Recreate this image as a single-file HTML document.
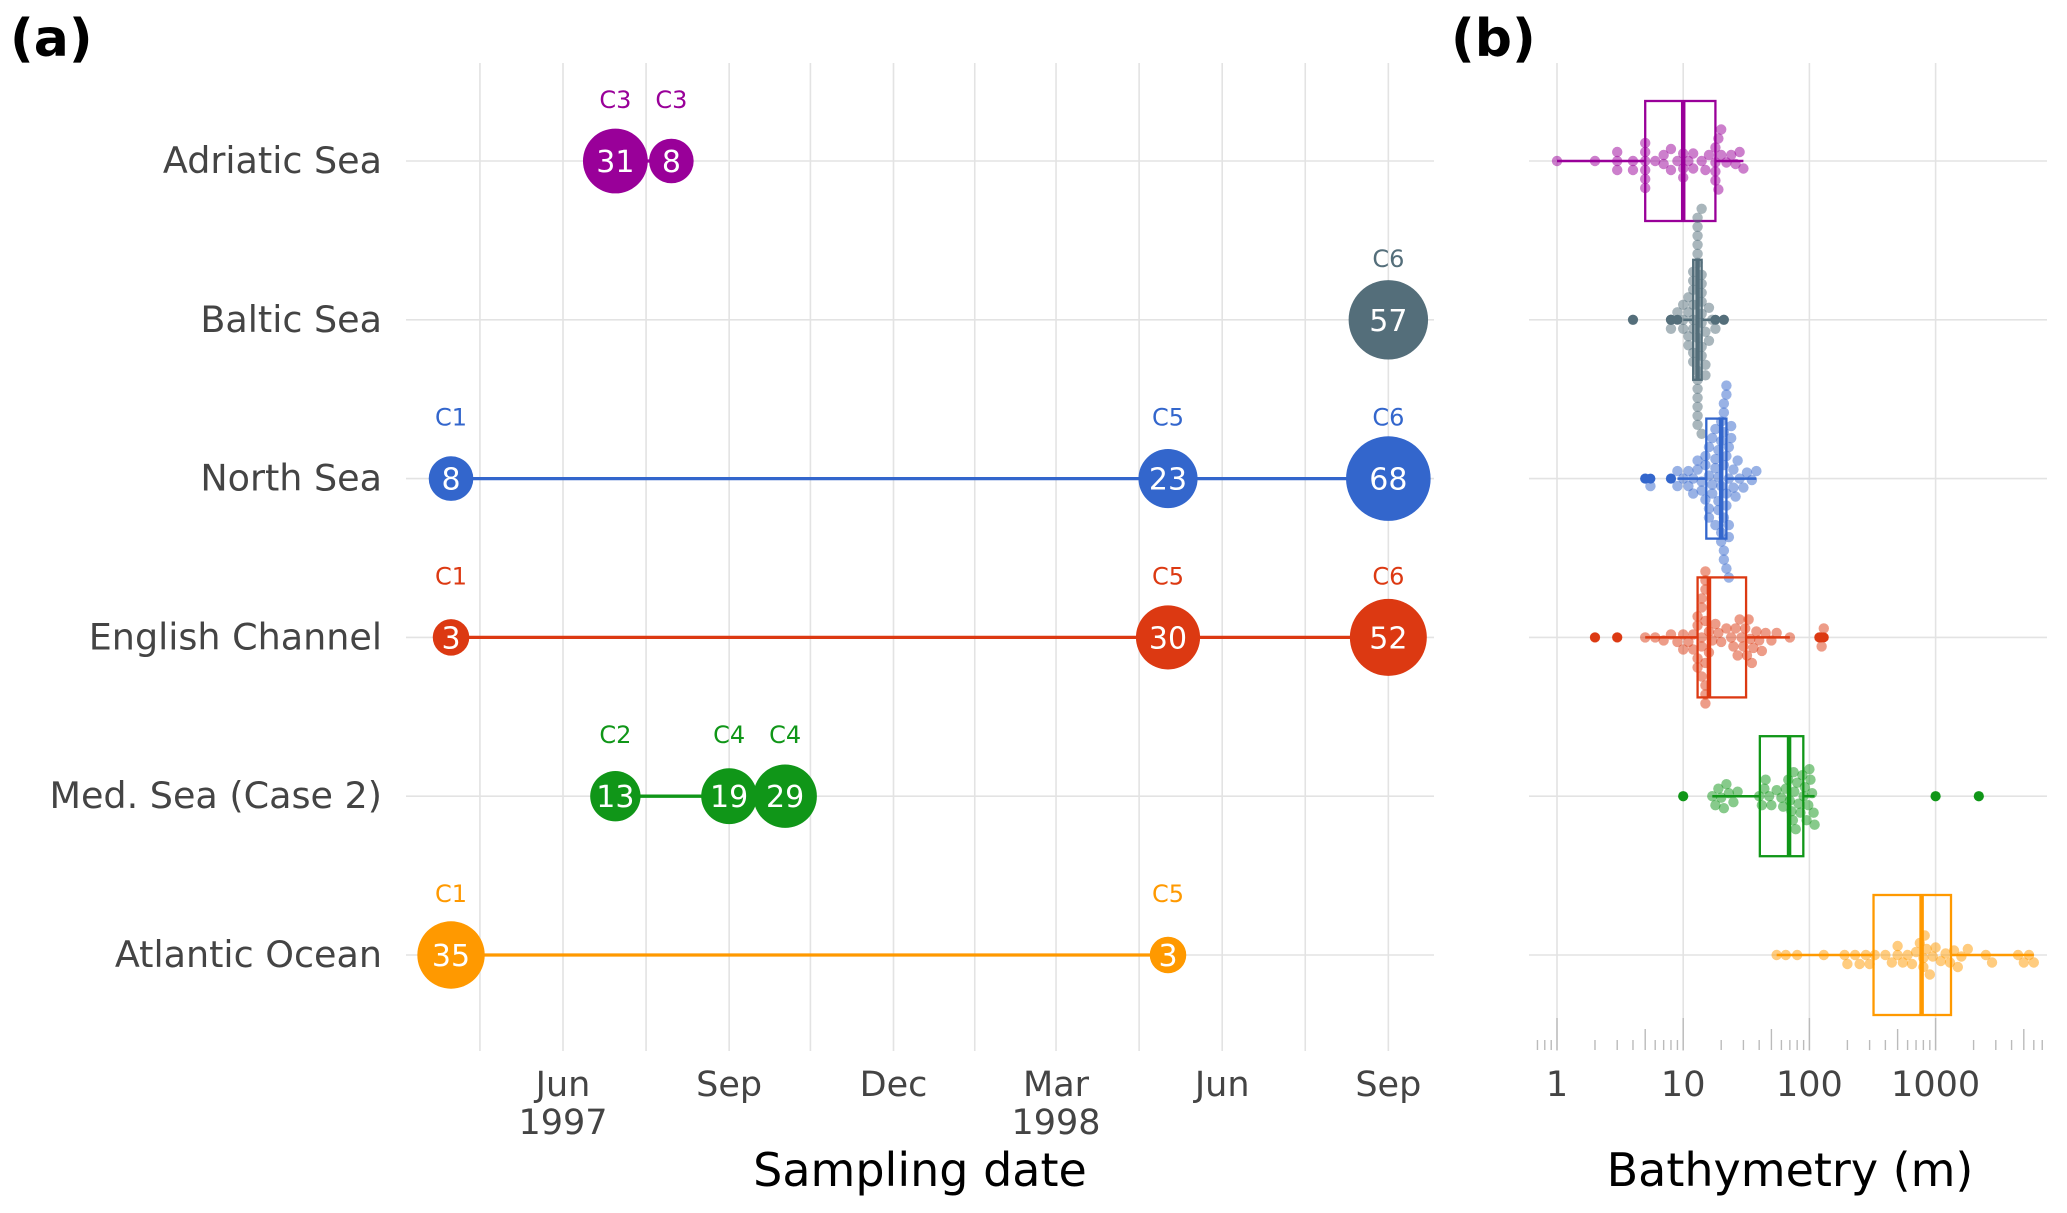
<!DOCTYPE html>
<html><head><meta charset="utf-8"><style>
html,body{margin:0;padding:0;background:#fff;}
svg{display:block;font-family:"DejaVu Sans","Liberation Sans",sans-serif;}
</style></head><body>
<svg id="chart" width="2067" height="1213" viewBox="0 0 2067 1213" xmlns="http://www.w3.org/2000/svg">
<text x="10" y="56" font-size="52" font-weight="bold" fill="#000">(a)</text>
<text x="1451" y="56" font-size="52" font-weight="bold" fill="#000">(b)</text>
<g id="pa"></g>
<g id="pb"></g>
<text x="920" y="1186" font-size="46" text-anchor="middle" fill="#000">Sampling date</text>
<text x="1790" y="1186" font-size="46" text-anchor="middle" fill="#000">Bathymetry (m)</text>
</svg>
<script>
const regions = ['Adriatic Sea','Baltic Sea','North Sea','English Channel','Med. Sea (Case 2)','Atlantic Ocean'];
const regionColors = ['#990099','#546e7a','#3366cc','#dc3912','#109618','#ff9900'];
const sampleRegion = [0,0,1,2,2,2,3,3,3,4,4,4,5,5];
const sampleDate = ['1997-06-30','1997-07-31','1998-09-01','1997-03-31','1998-05-02','1998-09-01','1997-03-31','1998-05-02','1998-09-01','1997-06-30','1997-09-01','1997-10-02','1997-03-31','1998-05-02'];
const sampleCount = [31,8,57,8,23,68,3,30,52,13,19,29,35,3];
const sampleCruise = ['C3','C3','C6','C1','C5','C6','C1','C5','C6','C2','C4','C4','C1','C5'];
const dateTicks = ['1997-06-01','1997-09-01','1997-12-01','1998-03-01','1998-06-01','1998-09-01'];
const dateTickLabels = [['Jun','1997'],['Sep',''],['Dec',''],['Mar','1998'],['Jun',''],['Sep','']];
const minorTicks = ['1997-04-16','1997-07-17','1997-10-16','1998-01-15','1998-04-16','1998-07-17'];

const depthAdriatic = [1,2,3,3,3,4,4,5,5,5,5,5,5,6,7,7,8,8,9,10,10,10,11,12,12,14,15,16,18,18,18,18,19,19,20,20,22,24,26,28,30];
const depthBaltic = [4,8,8,9,10,10,10,11,11,11,11,12,12,12,12,12,12,12,12,13,13,13,13,13,13,13,13,13,13,13,13,13,13,14,14,14,14,14,14,14,14,14,14,15,15,15,16,16,17,18,21];
const depthNorth = [5,5.5,8,9,9,10,11,11,12,12,13,13,14,14,15,15,15,16,16,16,16,17,17,17,18,18,18,18,19,19,19,19,20,20,20,20,20,21,21,21,21,21,21,21,22,22,22,22,22,22,23,23,23,23,23,24,24,25,25,26,27,28,30,32,35,38];
const depthEnglish = [2,3,5,6,7,8,9,10,10,11,12,12,13,13,13,13,14,14,14,14,14,15,15,15,15,15,15,15,15,16,16,17,18,19,20,22,24,25,26,27,28,29,30,31,32,33,34,35,36,38,40,42,45,50,55,70,120,125,130];
const depthMed = [10,17,18,19,20,21,22,23,25,27,40,42,44,45,48,50,55,60,62,65,68,70,72,74,75,76,78,80,82,85,88,90,92,95,98,100,102,105,108,110,1000,2200];
const depthAtlantic = [55,65,80,130,190,200,230,250,280,300,330,400,450,500,500,550,600,650,700,750,800,800,820,850,900,950,1000,1100,1200,1300,1400,1500,1600,1800,2500,2800,4500,5000,5500,6000];
const depthTicks = [1,10,100,1000];

const NS='http://www.w3.org/2000/svg';
function mk(parent,tag,attrs){const e=document.createElementNS(NS,tag);for(const k in attrs)e.setAttribute(k,attrs[k]);parent.appendChild(e);return e;}
const rowY = i => 161 + i*158.8;
const day0 = Date.UTC(1997,5,1);
function xDate(s){const p=s.split('-');const d=(Date.UTC(+p[0],+p[1]-1,+p[2])-day0)/86400000;return 563 + d*1.806;}
const xLog = v => 1557 + Math.log10(v)*126.2;
const rad = n => (9+2.8*Math.sqrt(n))*1.318;
const grid='#e3e3e3';

// Panel A
const pa=document.getElementById('pa');
minorTicks.concat(dateTicks).forEach(t=>{
  const l=mk(pa,'line',{x1:xDate(t),x2:xDate(t),y1:63,y2:1051,stroke:grid,'stroke-width':1.6});
  
  
});
regions.forEach((r,i)=>{
  const l=mk(pa,'line',{x1:406,x2:1434,y1:rowY(i),y2:rowY(i),stroke:grid,'stroke-width':1.6});
  
  
  const t=mk(pa,'text',{x:382,y:rowY(i)+12,'font-size':36.5,'text-anchor':'end',fill:'#444'});
  t.textContent=r;
  
  
});
dateTicks.forEach((t,i)=>{
  const a=mk(pa,'text',{x:xDate(t),y:1096,'font-size':35,'text-anchor':'middle',fill:'#444'});
  a.textContent=dateTickLabels[i][0];
  
  
  if(dateTickLabels[i][1]){
    const b=mk(pa,'text',{x:xDate(t),y:1134,'font-size':35,'text-anchor':'middle',fill:'#444'});
    b.textContent=dateTickLabels[i][1];
    
    
  }
});
regions.forEach((r,i)=>{
  const xs=[];sampleRegion.forEach((ri,k)=>{if(ri===i)xs.push(xDate(sampleDate[k]));});
  if(xs.length>1){
    const l=mk(pa,'line',{x1:Math.min(...xs),x2:Math.max(...xs),y1:rowY(i),y2:rowY(i),stroke:regionColors[i],'stroke-width':3.3});
    
    
  }
});
sampleCount.forEach((n,k)=>{
  const i=sampleRegion[k],x=xDate(sampleDate[k]),y=rowY(i);
  const c=mk(pa,'circle',{cx:x,cy:y,r:rad(n),fill:regionColors[i]});
  
  
  const t=mk(pa,'text',{x:x,y:y+11,'font-size':30,'text-anchor':'middle',fill:'#fff'});
  t.textContent=n;
  
  
  const c2=mk(pa,'text',{x:x,y:y-53,'font-size':24,'text-anchor':'middle',fill:regionColors[i]});
  c2.textContent=sampleCruise[k];
  
  
});

// Panel B
const pb=document.getElementById('pb');
depthTicks.forEach(v=>{
  const l=mk(pb,'line',{x1:xLog(v),x2:xLog(v),y1:63,y2:1051,stroke:grid,'stroke-width':1.6});
  
  
  const t=mk(pb,'text',{x:xLog(v),y:1096,'font-size':35,'text-anchor':'middle',fill:'#444'});
  t.textContent=v;
  
  
});
regions.forEach((r,i)=>{
  const l=mk(pb,'line',{x1:1529,x2:2047,y1:rowY(i),y2:rowY(i),stroke:grid,'stroke-width':1.6});
  
  
});
for(let e=-1;e<4;e++){for(let m=1;m<10;m++){
  const v=m*Math.pow(10,e);const x=xLog(v);if(x<1532||x>2045)continue;
  const top=m===1?1018:(m===5?1029:1040);
  const l=mk(pb,'line',{x1:x,x2:x,y1:top,y2:1050,stroke:'#bbb','stroke-width':1.4});
  
  
}}
const depthSets=[depthAdriatic,depthBaltic,depthNorth,depthEnglish,depthMed,depthAtlantic];
function q(a,p){const h=(a.length-1)*p,lo=Math.floor(h),hi=Math.ceil(h);return a[lo]+(a[hi]-a[lo])*(h-lo);}
depthSets.forEach((vals,i)=>{
  const col=regionColors[i],y0=rowY(i);
  const lv=vals.map(Math.log10).sort((a,b)=>a-b);
  const q1=q(lv,.25),md=q(lv,.5),q3=q(lv,.75),iqr=q3-q1;
  const lo=Math.min(...lv.filter(v=>v>=q1-1.5*iqr)),hi=Math.max(...lv.filter(v=>v<=q3+1.5*iqr));
  const X=v=>1557+v*126.2;
  const r=5.2,placed=[];
  lv.forEach(v=>{
    const x=X(v);let off=0;
    for(let s=0;s<200;s++){const o=(s%2?1:-1)*Math.ceil(s/2)*1.5;
      if(placed.every(p=>Math.hypot(p[0]-x,p[1]-o)>=2*r*0.85)){off=o;break;}}
    placed.push([x,off]);
    const c=mk(pb,'circle',{cx:x,cy:y0+off,r:r,fill:col,'fill-opacity':0.5});
    
    
  });
  const wl=mk(pb,'line',{x1:X(lo),x2:X(q1),y1:y0,y2:y0,stroke:col,'stroke-width':2.5});
  
  
  const wh=mk(pb,'line',{x1:X(q3),x2:X(hi),y1:y0,y2:y0,stroke:col,'stroke-width':2.5});
  
  
  const b=mk(pb,'rect',{x:X(q1),y:y0-60,width:X(q3)-X(q1),height:120,fill:'none',stroke:col,'stroke-width':2.3});
  
  
  const m=mk(pb,'line',{x1:X(md),x2:X(md),y1:y0-60,y2:y0+60,stroke:col,'stroke-width':4.5});
  
  
  lv.filter(v=>v<lo||v>hi).forEach(v=>{
    const o=mk(pb,'circle',{cx:X(v),cy:y0,r:5,fill:col});
    
    
  });
});
</script>
</body></html>
